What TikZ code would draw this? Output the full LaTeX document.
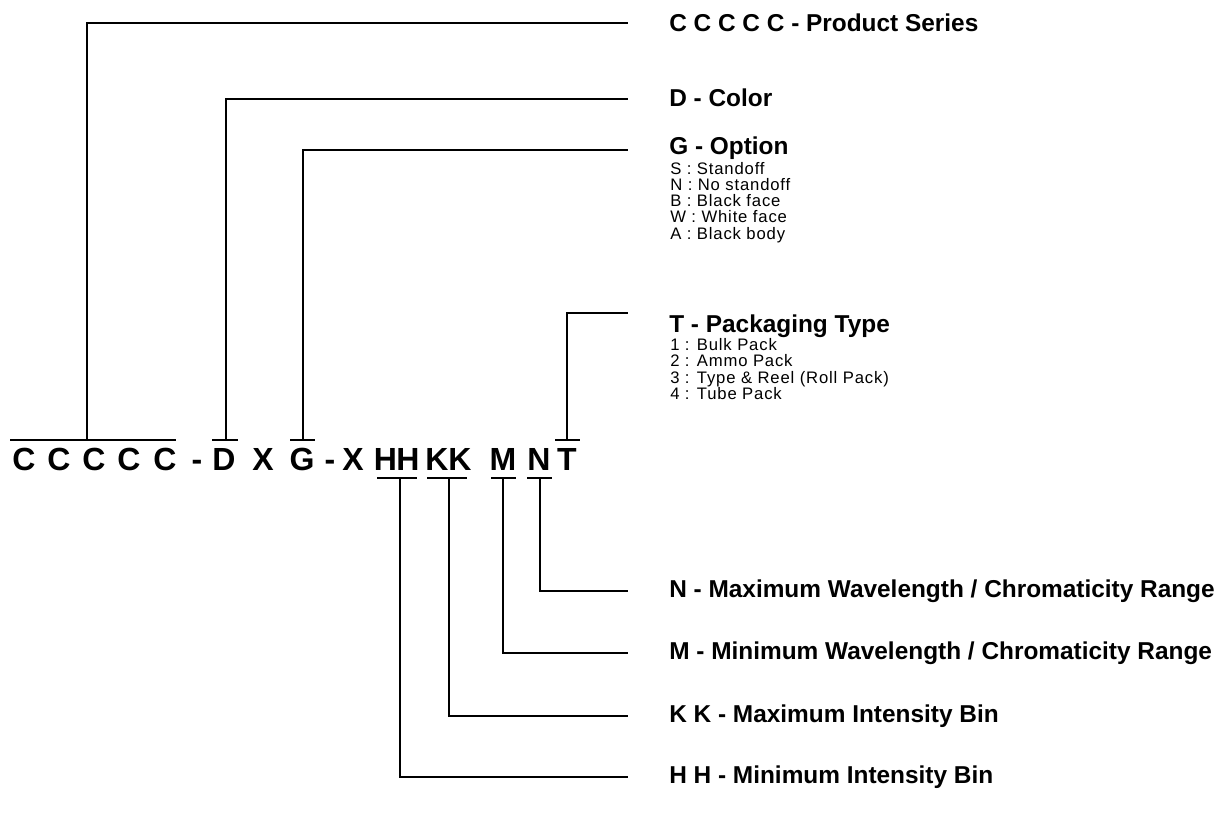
\documentclass[tikz,border=0pt]{standalone}
\usepackage{fontspec}
\setmainfont{Liberation Sans}
\newfontfamily\itemfont[LetterSpace=5]{Liberation Sans}
\tikzset{
  conn/.style={line width=1.5pt},
  bar/.style={line width=1.5pt},
  part/.style={font=\bfseries\fontsize{24}{24}\selectfont, inner sep=0pt, anchor=base},
  head/.style={font=\bfseries\fontsize{18.3}{20}\selectfont, inner sep=0pt, anchor=west},
  headb/.style={font=\bfseries\fontsize{18.3}{20}\selectfont, inner sep=0pt, anchor=base west},
  itemtxt/.style={font=\itemfont\fontsize{12.5}{13}\selectfont, inner sep=0pt, anchor=base west},
}
\begin{document}
\begin{tikzpicture}[x=0.75pt,y=-0.75pt]
\useasboundingbox (0,0) rectangle (1227,815);
% part number letters
\node[part] (c1) at (24,470) {C};
\node[part] (c2) at (59,470) {C};
\node[part] (c3) at (94,470) {C};
\node[part] (c4) at (129,470) {C};
\node[part] (c5) at (165,470) {C};
\node[part] (dash1) at (197,470) {-};
\node[part] (d) at (224,470) {D};
\node[part] (x1) at (263,470) {X};
\node[part] (g) at (302,470) {G};
\node[part] (dash2) at (330,470) {-};
\node[part] (x2) at (353,470) {X};
\node[part] (h1) at (385.5,470) {H};
\node[part] (h2) at (408,470) {H};
\node[part] (k1) at (437,470) {K};
\node[part] (k2) at (460,470) {K};
\node[part] (m) at (503,470) {M};
\node[part] (n) at (539,470) {N};
\node[part] (t) at (567,470) {T};
% bars
\draw[bar] (10,440) -- (176,440);
\draw[bar] (212,440) -- (238,440);
\draw[bar] (290,440) -- (315,440);
\draw[bar] (555,440) -- (580,440);
\draw[bar] (377,478) -- (417,478);
\draw[bar] (427,478) -- (467,478);
\draw[bar] (491,478) -- (516,478);
\draw[bar] (527,478) -- (552,478);
\coordinate (bc) at (87,440);
\coordinate (bd) at (226,440);
\coordinate (bg) at (303,440);
\coordinate (bt) at (567,440);
\coordinate (bh) at (400,478);
\coordinate (bk) at (449,478);
\coordinate (bm) at (503,478);
\coordinate (bn) at (540,478);
% line ends
\coordinate (ec) at (628,23);
\coordinate (ed) at (628,99);
\coordinate (eg) at (628,150);
\coordinate (et) at (628,313);
\coordinate (en) at (628,591);
\coordinate (em) at (628,653);
\coordinate (ek) at (628,716);
\coordinate (eh) at (628,777);
% labels
\node[head] (lc) at (669,23) {C C C C C - Product Series};
\node[head] (ld) at (669,98) {D - Color};
\node[headb] (lg) at (669,154) {G - Option};
\node[itemtxt] (gi1) at (670,174) {S : Standoff};
\node[itemtxt] (gi2) at (670,190.3) {N : No standoff};
\node[itemtxt] (gi3) at (670,206.6) {B : Black face};
\node[itemtxt] (gi4) at (670,222.9) {W : White face};
\node[itemtxt] (gi5) at (670,239.2) {A : Black body};
\node[headb] (lt) at (669,332) {T - Packaging Type};
\node[itemtxt] (ti1) at (670,350) {1 : Bulk Pack};
\node[itemtxt] (ti2) at (670,366.5) {2 : Ammo Pack};
\node[itemtxt] (ti3) at (670,383) {3 : Type \& Reel (Roll Pack)};
\node[itemtxt] (ti4) at (670,399.5) {4 : Tube Pack};
\node[head] (ln) at (669,591) {N - Maximum Wavelength / Chromaticity Range};
\node[head] (lm) at (669,653) {M - Minimum Wavelength / Chromaticity Range};
\node[head] (lk) at (669,716) {K K - Maximum Intensity Bin};
\node[head] (lh) at (669,777) {H H - Minimum Intensity Bin};
% connectors
\draw[conn] (bc) |- (ec);
\draw[conn] (bd) |- (ed);
\draw[conn] (bg) |- (eg);
\draw[conn] (bt) |- (et);
\draw[conn] (bn) |- (en);
\draw[conn] (bm) |- (em);
\draw[conn] (bk) |- (ek);
\draw[conn] (bh) |- (eh);
\end{tikzpicture}
\end{document}
